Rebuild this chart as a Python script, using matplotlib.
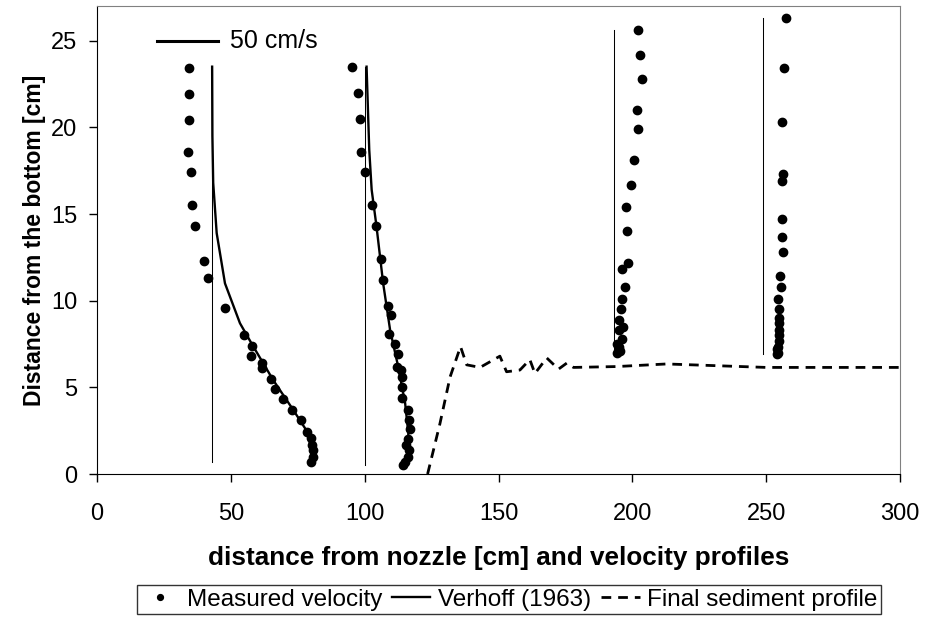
import matplotlib.pyplot as plt
import numpy as np

plt.rcParams["font.family"] = ["Liberation Sans", "DejaVu Sans"]
plt.rcParams["font.size"] = 17

# profile base lines (x position, y range)
base_x = [43.0, 100.1, 193.3, 248.9]
base_y0 = [0.7, 0.5, 7.0, 6.9]
base_y1 = [23.5, 23.5, 25.6, 26.3]

# measured velocity profiles
p1_x = [34.4, 34.4, 34.2, 34.1, 35.0, 35.6, 36.7, 39.8, 41.3, 47.9, 55.0, 58.0, 57.6,
        61.5, 61.7, 65.1, 66.6, 69.6, 73.0, 76.3, 78.6, 79.8, 80.3, 80.7, 80.6, 79.9]
p1_y = [23.4, 21.9, 20.4, 18.6, 17.4, 15.5, 14.3, 12.3, 11.3, 9.6, 8.0, 7.4, 6.8,
        6.4, 6.1, 5.5, 4.9, 4.3, 3.7, 3.1, 2.4, 2.1, 1.7, 1.4, 1.0, 0.7]
p2_x = [95.3, 97.6, 98.1, 98.6, 100.1, 102.8, 104.3, 106.2, 106.8, 108.6, 109.7, 109.2,
        111.3, 112.4, 112.1, 113.4, 114.0, 113.9, 113.9, 116.2, 116.4, 116.8, 116.3,
        115.4, 116.5, 116.0, 115.1, 114.2]
p2_y = [23.5, 22.0, 20.5, 18.6, 17.4, 15.5, 14.3, 12.4, 11.2, 9.7, 9.2, 8.1,
        7.5, 6.9, 6.2, 6.0, 5.6, 5.0, 4.4, 3.7, 3.1, 2.6, 2.0,
        1.7, 1.4, 1.0, 0.7, 0.5]
p3_x = [202.2, 202.8, 203.7, 201.7, 202.1, 200.6, 199.6, 197.6, 197.9, 198.5, 196.1,
        197.1, 196.1, 195.7, 194.9, 196.6, 195.1, 196.2, 194.4, 195.1, 194.1, 195.3]
p3_y = [25.6, 24.2, 22.8, 21.0, 19.9, 18.1, 16.7, 15.4, 14.0, 12.2, 11.8,
        10.8, 10.1, 9.5, 8.9, 8.5, 8.3, 7.8, 7.5, 7.3, 7.0, 7.1]
p4_x = [257.3, 256.8, 255.8, 256.1, 255.9, 255.9, 255.8, 256.3, 255.1, 255.5, 254.5,
        254.9, 254.7, 254.6, 254.9, 254.9, 254.7, 254.5, 253.9, 254.4, 254.2]
p4_y = [26.3, 23.4, 20.3, 17.3, 16.9, 14.7, 13.7, 12.8, 11.4, 10.8, 10.1,
        9.5, 9.0, 8.7, 8.3, 8.0, 7.7, 7.35, 7.2, 7.0, 6.9]

# Verhoff (1963) curves
v1_x = [43.0, 43.1, 43.4, 44.7, 47.8, 53.4, 58.4, 65.9, 73.3, 78.3, 80.2, 79.9]
v1_y = [23.5, 19.5, 16.8, 13.9, 11.0, 8.7, 7.35, 5.4, 3.7, 2.5, 1.4, 0.7]
v2_x = [100.7, 101.7, 102.6, 104.4, 106.9, 109.5, 112.5, 115.1, 116.3, 116.0, 114.4]
v2_y = [23.5, 18.7, 16.4, 14.3, 11.0, 8.3, 6.2, 4.1, 2.35, 1.0, 0.5]

# final sediment profile
sed_x = [123.5, 128.1, 131.9, 135.8, 138.1, 143.1, 150.5, 153.0, 158.0, 161.7, 163.6,
         168.0, 172.4, 175.5, 178.0, 194.1, 212.8, 231.4, 250.0, 300.0]
sed_y = [0.0, 2.9, 5.6, 7.35, 6.3, 6.15, 6.8, 5.9, 6.0, 6.6, 5.8,
         6.7, 6.05, 6.4, 6.15, 6.2, 6.35, 6.25, 6.15, 6.15]

# scale bar
scale_x = [22.4, 45.2]
scale_y = [25.0, 25.0]

fig = plt.figure(figsize=(9.25, 6.19), dpi=100)
ax = fig.add_axes([0.1049, 0.2342, 0.8681, 0.7561])

for bx, b0, b1 in zip(base_x, base_y0, base_y1):
    ax.plot([bx, bx], [b0, b1], color='black', lw=0.75)

h_sed, = ax.plot(sed_x, sed_y, color='black', lw=2.0, ls=(0, (3.5, 2.5)),
                 label='Final sediment profile')
h_v, = ax.plot(v1_x, v1_y, color='black', lw=1.7, label='Verhoff (1963)')
ax.plot(v2_x, v2_y, color='black', lw=1.7)
h_m, = ax.plot(p1_x, p1_y, 'o', color='black', ms=6, label='Measured velocity')
for px, py in [(p2_x, p2_y), (p3_x, p3_y), (p4_x, p4_y)]:
    ax.plot(px, py, 'o', color='black', ms=6)

ax.plot(scale_x, scale_y, color='black', lw=2.2)
ax.text(49.7, 25.0, "50 cm/s", va='center', ha='left', fontsize=18)

ax.set_xlim(0, 300)
ax.set_ylim(0, 27)
ax.set_xticks(np.arange(0, 301, 50))
ax.set_yticks(np.arange(0, 26, 5))
ax.tick_params(direction='out', length=6, width=1)
ax.tick_params(axis='x', pad=15)
ax.tick_params(axis='y', pad=8)
for s in ['top', 'right']:
    ax.spines[s].set_color('#808080')
ax.set_xlabel("distance from nozzle [cm] and velocity profiles", fontweight='bold',
              fontsize=18.8, labelpad=15)
ax.set_ylabel("Distance from the bottom [cm]", fontweight='bold', fontsize=16.5, labelpad=4)

leg = fig.legend([h_m, h_v, h_sed], ['Measured velocity', 'Verhoff (1963)', 'Final sediment profile'],
                 loc='center', bbox_to_anchor=(0.550, 0.0315), ncol=3, frameon=True,
                 fancybox=False, edgecolor='black', handlelength=1.6, handletextpad=0.3,
                 columnspacing=0.4, borderpad=0.15, borderaxespad=0, markerscale=0.7,
                 fontsize=17.5)
leg.get_frame().set_linewidth(1)

fig.savefig("out.png", dpi=100)
